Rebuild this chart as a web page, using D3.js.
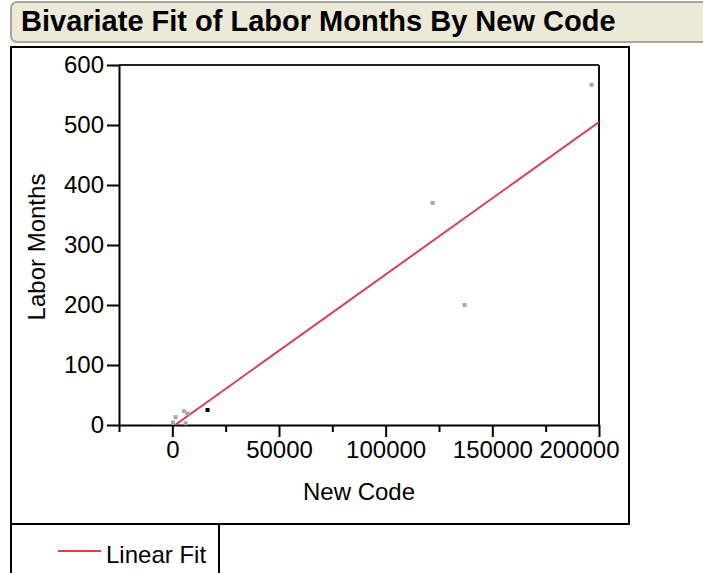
<!DOCTYPE html>
<html>
<head>
<meta charset="utf-8">
<script src="https://cdn.jsdelivr.net/npm/d3@7"></script>
<style>
  html, body { margin: 0; padding: 0; background: #ffffff; }
  svg { display: block; font-family: "Liberation Sans", Arial, sans-serif; }
</style>
</head>
<body>
<svg id="chart" width="703" height="573"></svg>
<script>
// ---- data ----
const newCode     = [300, 1500, 5500, 6200, 7100, 16500, 122000, 137000, 196500];
const laborMonths = [4, 13, 23, 3, 19, 25, 370, 200, 567];
const highlighted = [false, false, false, false, false, true, false, false, false];
const yTicks = [0, 100, 200, 300, 400, 500, 600];
const xMajorTicks = [0, 50000, 100000, 150000, 200000];
const xMinorTicks = [-25000, 25000, 75000, 125000, 175000];
const fitIntercept = -3.2;
const fitSlope = 0.002541;
const titleText = "Bivariate Fit of Labor Months By New Code";
const xTitle = "New Code";
const yTitle = "Labor Months";
const legendLabel = "Linear Fit";

const svg = d3.select("#chart");
const fitColor = "#D6424F";

// title bar
svg.append("rect").attr("x", 11).attr("y", 2).attr("width", 720).attr("height", 40)
  .attr("rx", 6).attr("fill", "#ECE9D8").attr("stroke", "#A8A79C").attr("stroke-width", 2);
svg.append("text").attr("x", 21).attr("y", 31).attr("font-size", 29).attr("font-weight", "bold")
  .attr("fill", "#000").text(titleText);

// outer frames
svg.append("rect").attr("x", 11).attr("y", 47).attr("width", 618).attr("height", 477)
  .attr("fill", "none").attr("stroke", "#000").attr("stroke-width", 2);
svg.append("rect").attr("x", 11).attr("y", 524).attr("width", 208).attr("height", 60)
  .attr("fill", "none").attr("stroke", "#000").attr("stroke-width", 2);

// scales
const x = d3.scaleLinear().domain([-25000, 200000]).range([119, 599]);
const y = d3.scaleLinear().domain([0, 600]).range([425, 65]);

// clip for plot area
svg.append("defs").append("clipPath").attr("id", "plotClip")
  .append("rect").attr("x", 119).attr("y", 65).attr("width", 480).attr("height", 360);

// plot frame (top/right)
svg.append("line").attr("x1", 119).attr("x2", 599).attr("y1", 65).attr("y2", 65)
  .attr("stroke", "#222").attr("stroke-width", 2);
svg.append("line").attr("x1", 599).attr("x2", 599).attr("y1", 65).attr("y2", 425)
  .attr("stroke", "#111").attr("stroke-width", 2);

// y axis
const yAxis = svg.append("g").attr("transform", "translate(119,0)")
  .call(d3.axisLeft(y).tickValues(yTicks).tickSize(12).tickPadding(3).tickSizeOuter(0));
yAxis.select(".domain").attr("stroke", "#000").attr("stroke-width", 2);
yAxis.selectAll(".tick line").attr("stroke", "#000").attr("stroke-width", 2);
yAxis.selectAll(".tick text").attr("font-size", 24).attr("font-family", "Liberation Sans, Arial, sans-serif").attr("fill", "#000");

// x axis (major)
const xAxis = svg.append("g").attr("transform", "translate(0,425)")
  .call(d3.axisBottom(x).tickValues(xMajorTicks).tickFormat(d3.format("d")).tickSize(12).tickPadding(4).tickSizeOuter(0));
xAxis.select(".domain").attr("stroke", "#000").attr("stroke-width", 2);
xAxis.selectAll(".tick line").attr("stroke", "#000").attr("stroke-width", 2);
xAxis.selectAll(".tick text").attr("font-size", 24).attr("font-family", "Liberation Sans, Arial, sans-serif").attr("fill", "#000");
// keep last label inside the frame
xAxis.selectAll(".tick text").filter(d => d === 200000).attr("text-anchor", "end").attr("x", 20);

// x axis (minor)
const xMinor = svg.append("g").attr("transform", "translate(0,425)")
  .call(d3.axisBottom(x).tickValues(xMinorTicks).tickFormat("").tickSize(7).tickSizeOuter(0));
xMinor.select(".domain").remove();
xMinor.selectAll(".tick line").attr("stroke", "#000").attr("stroke-width", 2);

// axis titles
svg.append("text").attr("x", (119 + 599) / 2).attr("y", 500).attr("text-anchor", "middle")
  .attr("font-size", 24).attr("fill", "#000").text(xTitle);
svg.append("text").attr("transform", "translate(45,247) rotate(-90)").attr("text-anchor", "middle")
  .attr("font-size", 24).attr("fill", "#000").text(yTitle);

// fit line across the x range, clipped to the plot area
const [dx0, dx1] = x.domain();
svg.append("line").attr("clip-path", "url(#plotClip)")
  .attr("x1", x(dx0)).attr("y1", y(fitIntercept + fitSlope * dx0))
  .attr("x2", x(dx1)).attr("y2", y(fitIntercept + fitSlope * dx1))
  .attr("stroke", fitColor).attr("stroke-width", 2);

// points
const pts = newCode.map((v, i) => ({ x: v, y: laborMonths[i], h: highlighted[i] }));
svg.append("g").selectAll("rect").data(pts).join("rect")
  .attr("x", d => x(d.x) - 2).attr("y", d => y(d.y) - 2)
  .attr("width", 4).attr("height", 4)
  .attr("fill", d => d.h ? "#000" : "#A8A8A8");

// legend
svg.append("line").attr("x1", 58).attr("x2", 101).attr("y1", 551).attr("y2", 551)
  .attr("stroke", fitColor).attr("stroke-width", 2);
svg.append("text").attr("x", 106).attr("y", 563).attr("font-size", 24).attr("fill", "#000").text(legendLabel);
</script>
</body>
</html>
